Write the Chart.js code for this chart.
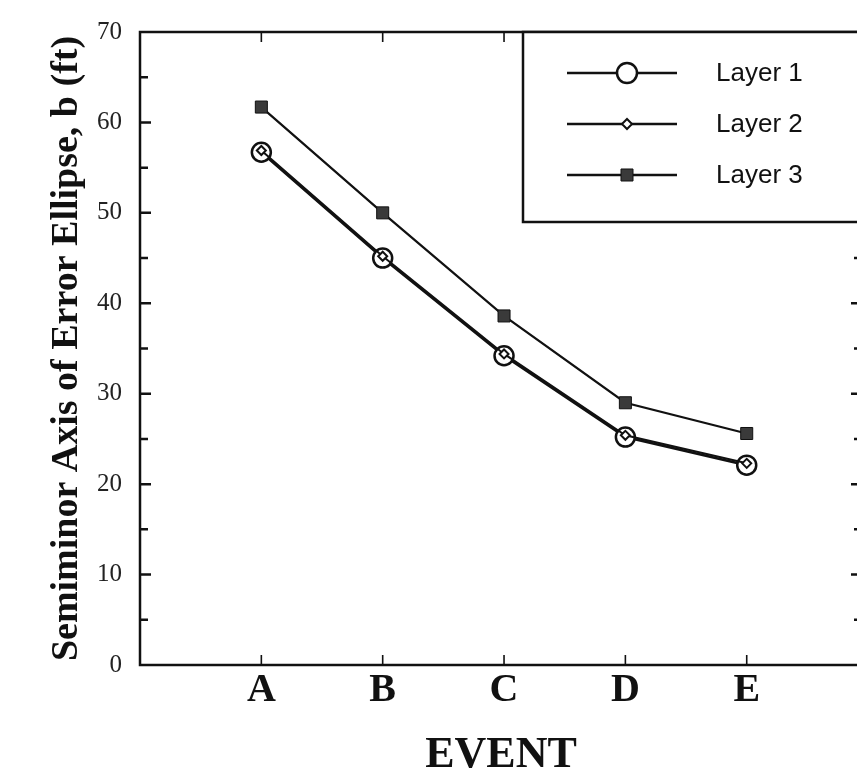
<!DOCTYPE html>
<html>
<head>
<meta charset="utf-8">
<title>Semiminor Axis of Error Ellipse</title>
<script src="https://cdn.jsdelivr.net/npm/chart.js@4.4.0/dist/chart.umd.min.js"></script>
<style>
  html, body { margin: 0; padding: 0; background: #fff; overflow: hidden; }
  #wrap { width: 857px; height: 774px; overflow: hidden; }
  canvas { display: block; }
</style>
</head>
<body>
<div id="wrap"><canvas id="chart" width="874" height="774"></canvas></div>
<script>
// data
const events = ['A', 'B', 'C', 'D', 'E'];
const layer1 = [56.7, 45.0, 34.2, 25.2, 22.1];
const layer2 = [56.9, 45.2, 34.4, 25.4, 22.3];
const layer3 = [61.7, 50.0, 38.6, 29.0, 25.6];
const layerNames = ['Layer 1', 'Layer 2', 'Layer 3'];

const INK = '#111';
const SERIF = '"Liberation Serif", "Times New Roman", serif';

function toPoints(values) {
    return values.map((v, i) => ({ x: i + 1, y: v }));
}

// frame around plot area with inward ticks
const framePlugin = {
    id: 'frame',
    afterDraw(chart) {
        const ctx = chart.ctx;
        const a = chart.chartArea;
        const xs = chart.scales.x;
        const ys = chart.scales.y;
        ctx.save();
        ctx.strokeStyle = INK;
        ctx.lineWidth = 2.5;
        ctx.strokeRect(a.left, a.top, a.right - a.left, a.bottom - a.top);

        // y ticks every 5, left and right
        for (let v = 5; v < 70; v += 5) {
            const y = ys.getPixelForValue(v);
            const len = v % 10 === 0 ? 11 : 8;
            ctx.beginPath();
            ctx.moveTo(a.left, y);
            ctx.lineTo(a.left + len, y);
            ctx.moveTo(a.right, y);
            ctx.lineTo(a.right - len, y);
            ctx.stroke();
        }
        // x ticks at each event, bottom and top
        ctx.lineWidth = 1.6;
        events.forEach((e, i) => {
            const x = xs.getPixelForValue(i + 1);
            ctx.beginPath();
            ctx.moveTo(x, a.bottom);
            ctx.lineTo(x, a.bottom - 10);
            ctx.moveTo(x, a.top);
            ctx.lineTo(x, a.top + 10);
            ctx.stroke();
        });
        ctx.restore();
    }
};

// boxed legend in the top right corner
const legendBoxPlugin = {
    id: 'legendBox',
    afterDraw(chart) {
        const ctx = chart.ctx;
        const a = chart.chartArea;
        const boxLeft = 523, boxBottom = 222;
        ctx.save();
        ctx.fillStyle = '#fff';
        ctx.fillRect(boxLeft, a.top, a.right - boxLeft, boxBottom - a.top);
        ctx.strokeStyle = INK;
        ctx.lineWidth = 2.5;
        ctx.strokeRect(boxLeft, a.top, a.right - boxLeft, boxBottom - a.top);

        const rows = [73, 124, 175];
        chart.data.datasets.forEach((ds, i) => {
            const y = rows[i];
            ctx.strokeStyle = ds.borderColor;
            ctx.lineWidth = 2.6;
            ctx.beginPath();
            ctx.moveTo(567, y);
            ctx.lineTo(677, y);
            ctx.stroke();
            ctx.fillStyle = ds.pointBackgroundColor;
            ctx.strokeStyle = ds.pointBorderColor;
            ctx.lineWidth = ds.pointBorderWidth;
            Chart.helpers.drawPoint(ctx, {
                pointStyle: ds.pointStyle,
                radius: ds.legendRadius,
                rotation: 0,
                borderWidth: ds.pointBorderWidth
            }, 627, y);
            ctx.fillStyle = INK;
            ctx.font = '26px "Liberation Sans", Arial, sans-serif';
            ctx.textBaseline = 'middle';
            ctx.textAlign = 'left';
            ctx.fillText(ds.label, 716, y + 1);
        });
        ctx.restore();
    }
};

const ctx = document.getElementById('chart').getContext('2d');
new Chart(ctx, {
    type: 'line',
    data: {
        datasets: [
            {
                label: layerNames[0],
                data: toPoints(layer1),
                borderColor: INK,
                borderWidth: 2.6,
                pointStyle: 'circle',
                pointRadius: 9.5,
                legendRadius: 10,
                pointBorderWidth: 2.5,
                pointBackgroundColor: '#fff',
                pointBorderColor: INK,
                order: 1
            },
            {
                label: layerNames[1],
                data: toPoints(layer2),
                borderColor: INK,
                borderWidth: 2,
                pointStyle: 'rectRot',
                pointRadius: 4.5,
                legendRadius: 5,
                pointBorderWidth: 2,
                pointBackgroundColor: '#fff',
                pointBorderColor: INK,
                order: 0
            },
            {
                label: layerNames[2],
                data: toPoints(layer3),
                borderColor: INK,
                borderWidth: 2.2,
                pointStyle: 'rect',
                pointRadius: 8.5,
                legendRadius: 8.5,
                pointBorderWidth: 1,
                pointBackgroundColor: '#3a3a3a',
                pointBorderColor: INK,
                order: 2
            }
        ]
    },
    options: {
        responsive: false,
        animation: false,
        layout: { padding: { top: 32, right: 2, left: 0, bottom: 0 } },
        plugins: {
            legend: { display: false },
            tooltip: { enabled: false }
        },
        scales: {
            x: {
                type: 'linear',
                min: 0,
                max: 5.95,
                grid: { display: false },
                border: { display: false },
                afterBuildTicks: scale => {
                    scale.ticks = events.map((e, i) => ({ value: i + 1 }));
                },
                afterFit: scale => { scale.height = 109; },
                ticks: {
                    padding: -6,
                    color: INK,
                    font: { family: SERIF, size: 40, weight: 'bold' },
                    callback: v => events[v - 1] || ''
                },
                title: {
                    display: true,
                    text: 'EVENT',
                    color: INK,
                    font: { family: SERIF, size: 44, weight: 'bold', lineHeight: 1 },
                    padding: { top: 0, bottom: -4 }
                }
            },
            y: {
                min: 0,
                max: 70,
                grid: { display: false },
                border: { display: false },
                afterFit: scale => { scale.width = 140; },
                ticks: {
                    stepSize: 10,
                    padding: 10,
                    color: '#222',
                    font: { family: SERIF, size: 25 }
                },
                title: {
                    display: true,
                    text: 'Semiminor Axis of Error Ellipse, b (ft)',
                    color: INK,
                    font: { family: SERIF, size: 38, weight: 'bold', lineHeight: 1.2 },
                    padding: { top: 44, bottom: 0 }
                }
            }
        }
    },
    plugins: [framePlugin, legendBoxPlugin]
});
</script>
</body>
</html>
